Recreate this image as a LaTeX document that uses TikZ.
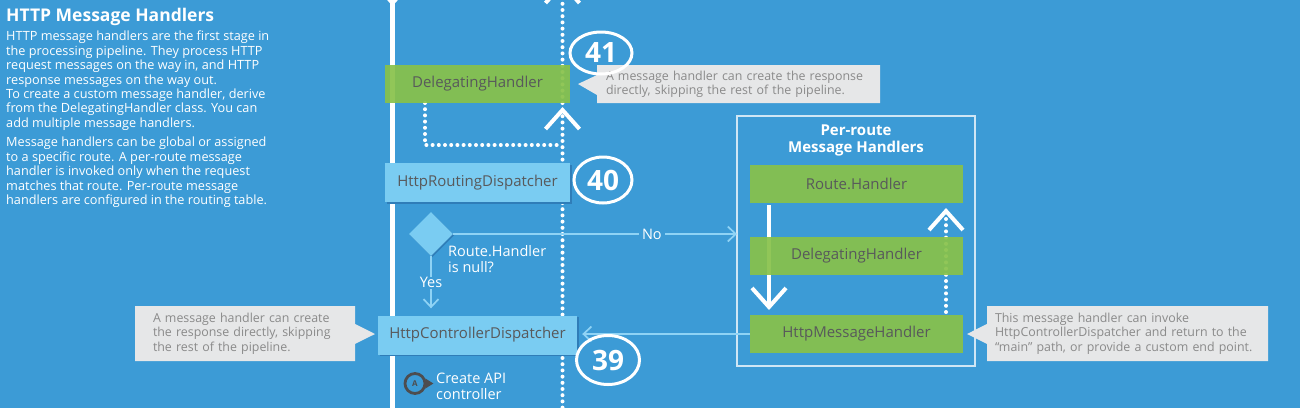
\documentclass[tikz,border=0pt]{standalone}
\usepackage{fontspec}
\setmainfont{Open Sans}
\usetikzlibrary{arrows.meta,shapes.geometric,shapes.callouts,shadows,positioning}

\definecolor{bgblue}{HTML}{3C9BD6}
\definecolor{stageblue}{HTML}{7ACCF2}
\definecolor{shadowblue}{HTML}{2F7DB8}
\definecolor{handlergreen}{HTML}{88C24A}
\definecolor{boxtext}{HTML}{58595B}
\definecolor{notegray}{HTML}{E6E7E8}
\definecolor{notetext}{HTML}{8A8A8A}
\definecolor{flowblue}{HTML}{8FD3F5}
\definecolor{framelight}{HTML}{CFE6F5}
\definecolor{markergray}{HTML}{4D4D4F}

\tikzset{
  bodytext/.style={text=white, align=left, inner sep=0pt, font=\fontsize{12.7}{14.4}\selectfont},
  titletext/.style={text=white, inner sep=0pt, font=\bfseries\fontsize{17.5}{19}\selectfont},
  stagebox/.style={fill=stageblue, text=boxtext, minimum height=39pt, inner sep=0pt,
    font=\fontsize{15}{17}\selectfont,
    general shadow={fill=shadowblue, shadow xshift=1.5pt, shadow yshift=-1.5pt}},
  handlerbox/.style={fill=handlergreen, fill opacity=0.92, text opacity=1, text=boxtext,
    minimum height=38pt, inner sep=0pt, font=\fontsize{15}{17}\selectfont},
  decision/.style={diamond, fill=stageblue, minimum size=44pt, inner sep=0pt,
    general shadow={fill=shadowblue, shadow xshift=1.2pt, shadow yshift=-1.2pt}},
  note/.style={rectangle callout, fill=notegray, text=notetext, align=left,
    inner ysep=0pt, callout pointer width=20pt, font=\fontsize{12.4}{14.4}\selectfont},
  stepnum/.style={ellipse, draw=white, line width=3pt, text=white, inner sep=0pt,
    font=\bfseries\fontsize{28}{28}\selectfont},
  mainpath/.style={white, line width=4.5pt},
  dotpath/.style={white, line width=4pt, line cap=round, dash pattern=on 0pt off 6.2pt},
  chevron/.style={-{Straight Barb[length=19pt,width=34pt,line width=4pt]}},
  flow/.style={flowblue, line width=1.7pt, -{Straight Barb[length=8pt,width=15pt,line width=1.7pt]}},
  flowlabel/.style={fill=bgblue, text=white, inner sep=3pt, font=\fontsize{14.5}{16}\selectfont},
  plaintext/.style={text=white, align=left, inner sep=0pt, font=\fontsize{14.5}{15.8}\selectfont},
  routeframe/.style={draw=framelight, line width=1.5pt},
  marker/.style={circle, draw=markergray, line width=2.8pt, minimum size=20pt, inner sep=0pt,
    text=markergray, font=\bfseries\fontsize{8}{8}\selectfont}
}

\begin{document}
\begin{tikzpicture}[x=1pt, y=-1pt]
  \useasboundingbox (0,0) rectangle (1300,408);
  \fill[bgblue] (0,0) rectangle (1300,408);
  \clip (0,0) rectangle (1300,408);

  % left text
  \node[titletext, anchor=base west] (title) at (6,21) {HTTP Message Handlers};
  \node[bodytext, anchor=north west] (intro) at (6,31)
    {HTTP message handlers are the first stage in\\
     the processing pipeline. They process HTTP\\
     request messages on the way in, and HTTP\\
     response messages on the way out.\\
     To create a custom message handler, derive\\
     from the DelegatingHandler class. You can\\
     add multiple message handlers.};
  \node[bodytext, anchor=north west] (scope) at (6,137)
    {Message handlers can be global or assigned\\
     to a specific route. A per-route message\\
     handler is invoked only when the request\\
     matches that route. Per-route message\\
     handlers are configured in the routing table.};

  % main request path
  \coordinate (reqtop) at (392.5,-30);
  \coordinate (reqin) at (392.5,6);
  \coordinate (reqbottom) at (392.5,420);
  \draw[mainpath] (reqtop) -- (reqbottom);
  \draw[mainpath, chevron] (reqtop) -- (reqin);

  % response path
  \coordinate (resptop) at (562.5,-19);
  \coordinate (respbottom) at (562.5,420);
  \coordinate (rejoin) at (562.5,145);
  \draw[dotpath, chevron] (respbottom) -- (562.5,107);
  \draw[dotpath, chevron] (562.5,103) -- (resptop);
  \draw[dotpath] (425,103) |- (rejoin);

  % per-route frame
  \draw[routeframe] (737,116) rectangle (975,366);
  \coordinate (routes) at (737,234);
  \node[text=white, align=center, inner sep=0pt, anchor=north,
    font=\bfseries\fontsize{15}{16.5}\selectfont] (routestitle) at (856,125)
    {Per-route\\ Message Handlers};
  \draw[mainpath, chevron] (769,205) -- (769,310);
  \draw[dotpath, chevron] (946,312) -- (946,208);

  % stages
  \node[stagebox, minimum width=185pt] (hrd) at (477.5,182.5) {HttpRoutingDispatcher};
  \node[decision] (null) at (431,234) {};
  \node[stagebox, minimum width=199pt] (hcd) at (477.5,335) {HttpControllerDispatcher};

  \node[handlerbox, minimum width=185pt] (dh) at (477.5,84) {DelegatingHandler};
  \node[handlerbox, minimum width=213pt] (routeh) at (856.5,184) {Route.Handler};
  \node[handlerbox, minimum width=213pt] (routedh) at (856.5,255.5) {DelegatingHandler};
  \node[handlerbox, minimum width=213pt] (msgh) at (856.5,334) {HttpMessageHandler};

  % decision
  \node[plaintext, anchor=north west] (nulltext) at (448,245.5) {Route.Handler\\ is null?};
  \draw[flow] (null.east) -- node[flowlabel, pos=0.7] {No} (null.east -| routes);
  \draw[flow, shorten >=7pt] (null.south) -- node[flowlabel, pos=0.45, inner sep=1pt] {Yes}
    (null.south |- hcd.north);
  \draw[flow, shorten >=5pt] (msgh.west) -- (msgh.west -| hcd.east);

  % notes
  \node[note, inner xsep=9pt, text width=265pt, minimum height=38pt,
    callout absolute pointer={(578,84)}] (skiptop) at (738.5,84)
    {A message handler can create the response\\ directly, skipping the rest of the pipeline.};
  \node[note, inner xsep=18pt, text width=184pt, minimum height=55pt,
    callout absolute pointer={(375,334)}] (skipleft) at (245,333.5)
    {A message handler can create\\ the response directly, skipping\\ the rest of the pipeline.};
  \node[note, inner xsep=8pt, text width=265pt, minimum height=55pt,
    callout absolute pointer={(967,334)}] (invoke) at (1127.5,333.5)
    {This message handler can invoke\\ HttpControllerDispatcher and return to the\\
     ``main'' path, or provide a custom end point.};

  % step numbers
  \node[stepnum, minimum width=62pt, minimum height=42pt] (n41) at (601,53) {41};
  \node[stepnum, minimum width=58pt, minimum height=46pt] (n40) at (603,180) {40};
  \node[stepnum, minimum width=63pt, minimum height=49pt] (n39) at (608,360) {39};

  % controller marker
  \node[marker] (apimark) at (415,383.5) {A};
  \fill[markergray] ([xshift=-1pt, yshift=5pt]apimark.east) -- ([xshift=7pt]apimark.east)
    -- ([xshift=-1pt, yshift=-5pt]apimark.east) -- cycle;
  \node[plaintext, anchor=north west] (apitext) at (436,373) {Create API\\ controller};
\end{tikzpicture}
\end{document}
